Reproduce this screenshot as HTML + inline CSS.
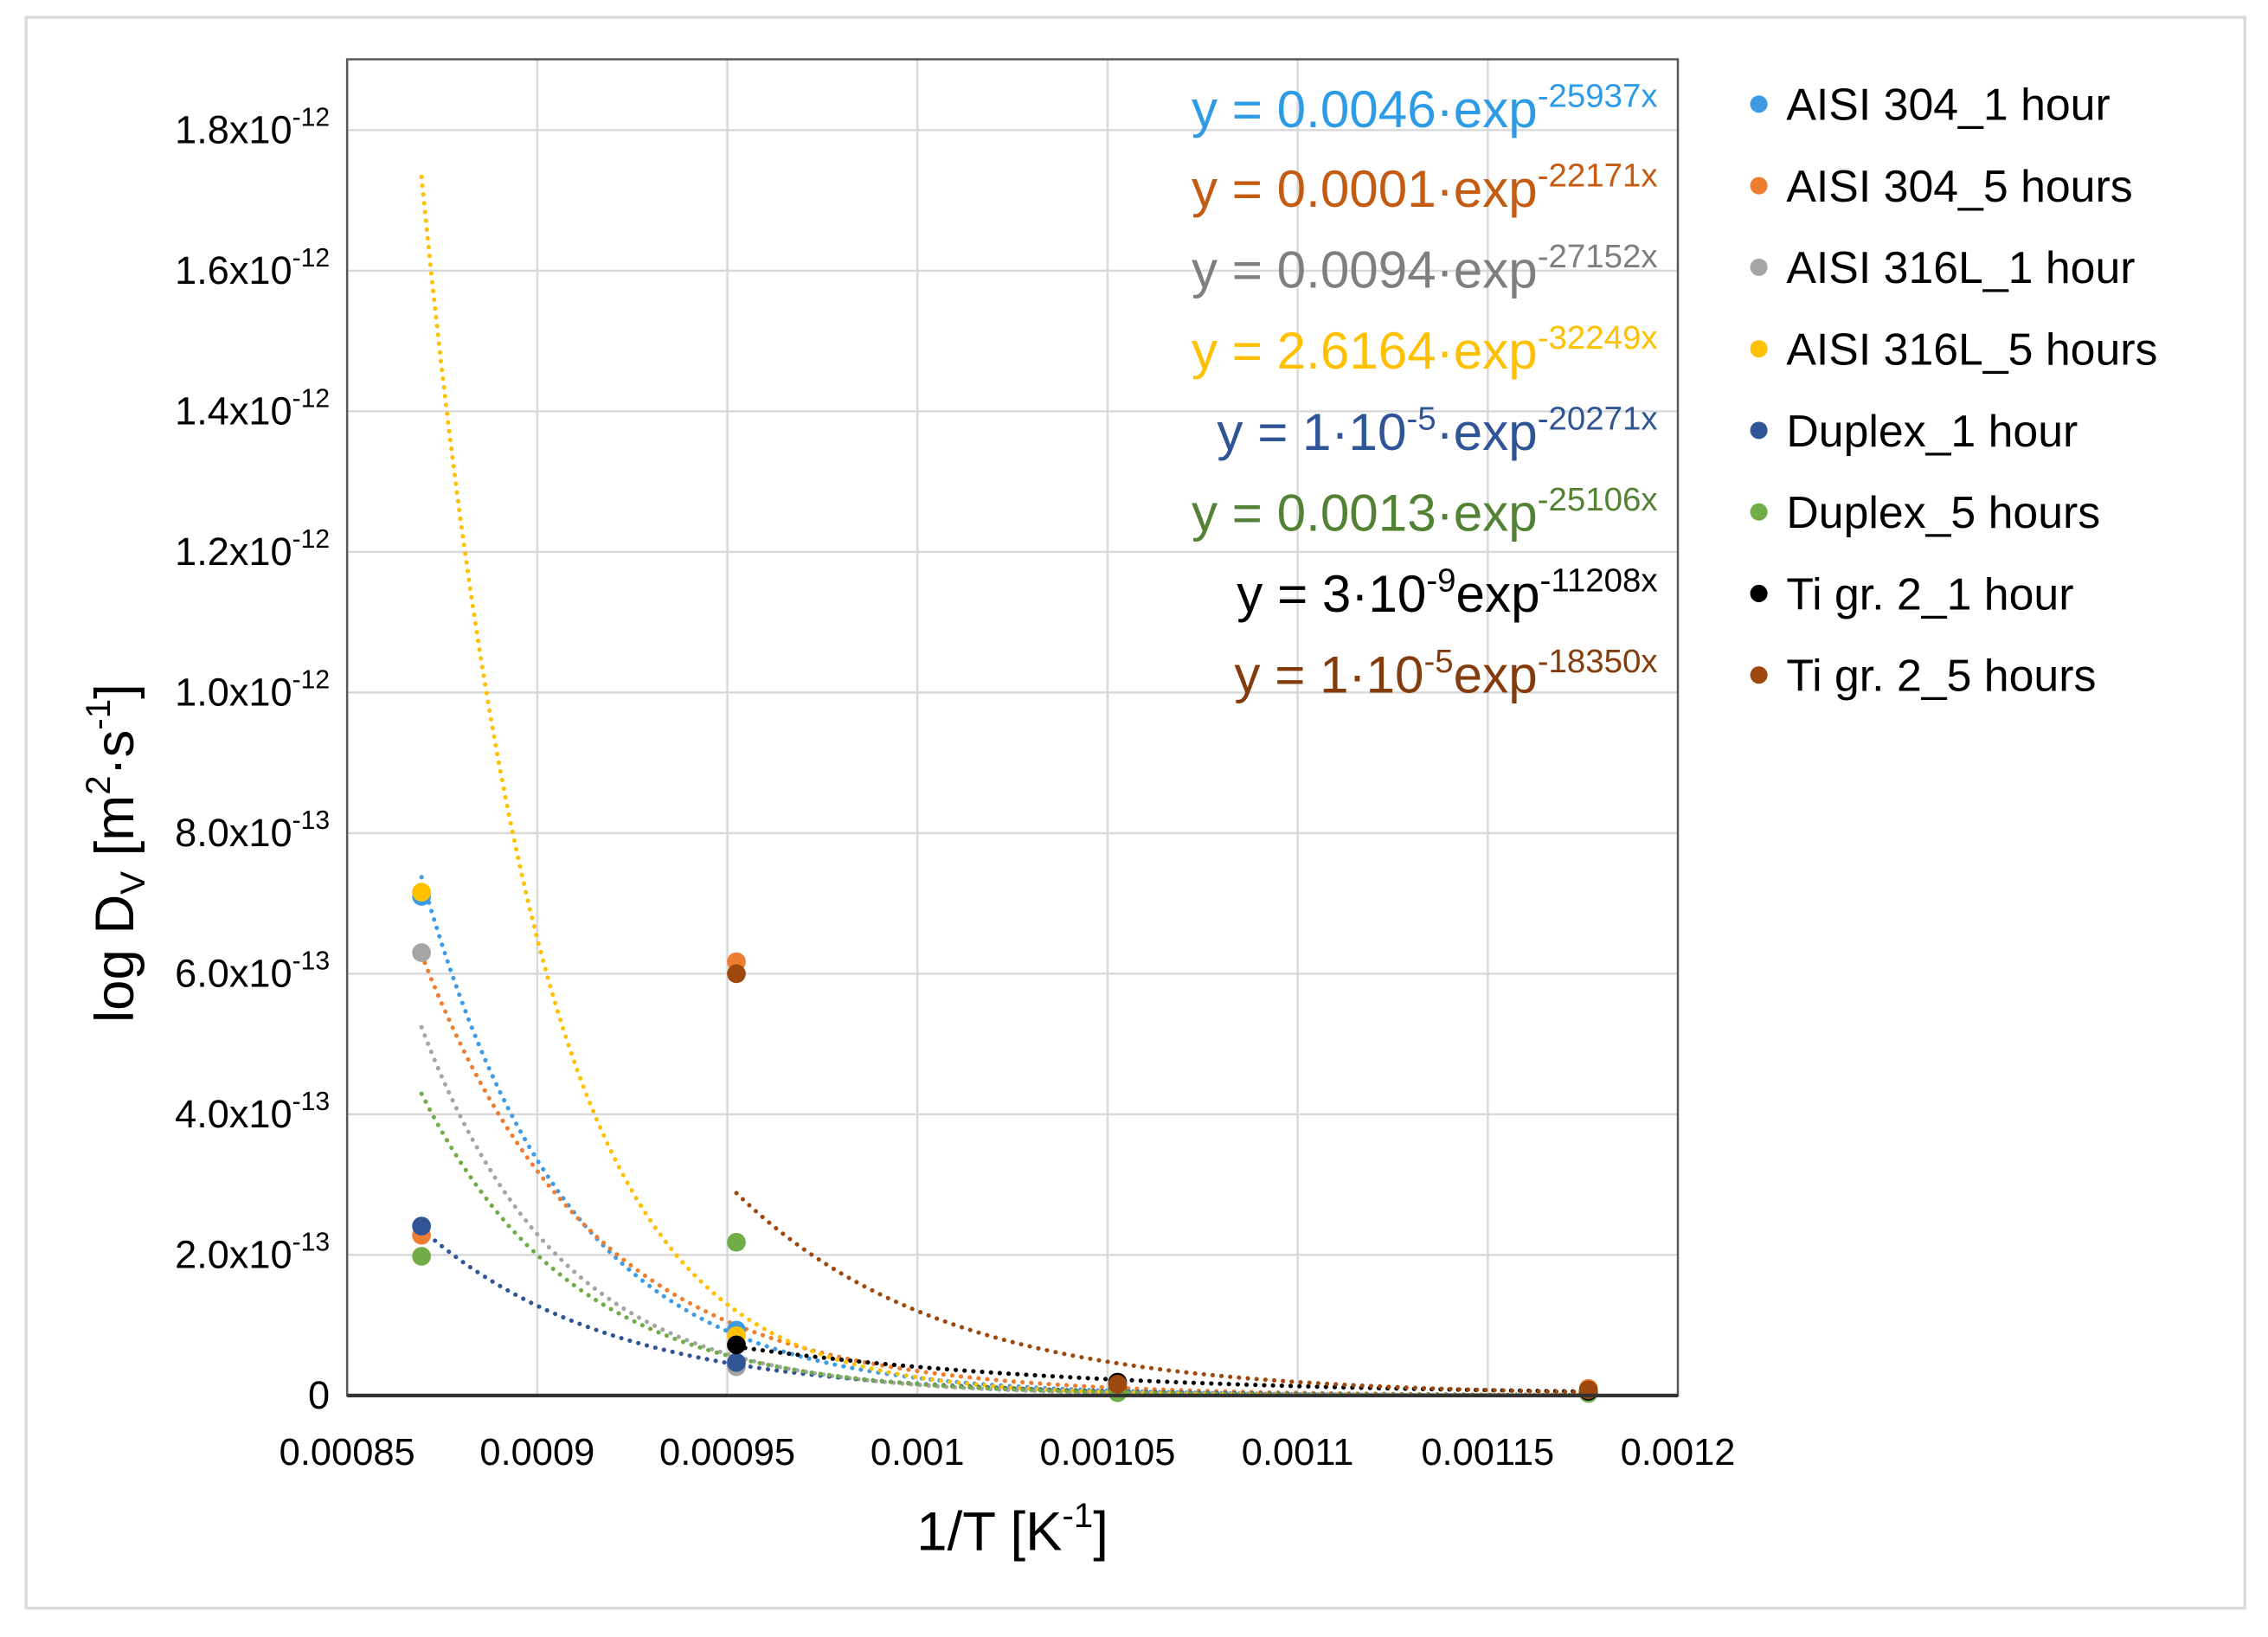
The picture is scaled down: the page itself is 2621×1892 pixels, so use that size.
<!DOCTYPE html>
<html><head><meta charset="utf-8"><style>
html,body{margin:0;padding:0;background:#fff;}
svg{display:block;}
text{font-family:"Liberation Sans Narrow","Liberation Sans",sans-serif;}
</style></head><body>
<svg id="chart" width="2621" height="1892" viewBox="0 0 1568 1132" preserveAspectRatio="none" xmlns="http://www.w3.org/2000/svg">
<rect x="18" y="12" width="1534" height="1100" fill="#fff" stroke="#d9d9d9" stroke-width="2"/>
<g id="grid"></g><g id="trends"></g><g id="points"></g>
<rect x="240" y="41" width="920" height="924" fill="none" stroke="#595959" stroke-width="1.5"/>
<line x1="240" y1="965" x2="1160" y2="965" stroke="#333" stroke-width="2.5"/>
<g id="ticks"></g><g id="eqs"></g><g id="legend"></g>
<text x="700" y="1072" font-size="38" text-anchor="middle" fill="#000">1/T [K<tspan font-size="24" dy="-16">-1</tspan><tspan dy="16">]</tspan></text>
<text transform="translate(92,590) rotate(-90)" font-size="38" text-anchor="middle" fill="#000">log D<tspan font-size="24" dy="8">V</tspan><tspan dy="-8"> [m</tspan><tspan font-size="24" dy="-16">2</tspan><tspan dy="16">·s</tspan><tspan font-size="24" dy="-16">-1</tspan><tspan dy="16">]</tspan></text>
</svg>
<script>
const xs = [1/1150, 1/1050, 1/950, 1/850];
const seriesNames = ["AISI 304_1 hour","AISI 304_5 hours","AISI 316L_1 hour","AISI 316L_5 hours","Duplex_1 hour","Duplex_5 hours","Ti gr. 2_1 hour","Ti gr. 2_5 hours"];
const colors = ["#3d9be6","#ed7d31","#a5a5a5","#ffc000","#2f5597","#70ad47","#000000","#9e480e"];
const eqColors = ["#2e9be6","#c55a11","#7f7f7f","#ffc000","#2f5597","#548235","#000000","#843c0c"];
// values in m^2/s (null = not present)
const v304_1 = [7.10e-13, 0.93e-13, 0.10e-13, 0.05e-13];
const v304_5 = [2.28e-13, 6.17e-13, 0.15e-13, 0.10e-13];
const v316_1 = [6.30e-13, 0.41e-13, 0.08e-13, 0.04e-13];
const v316_5 = [7.16e-13, 0.85e-13, 0.10e-13, 0.05e-13];
const vDup_1 = [2.41e-13, 0.47e-13, 0.08e-13, 0.04e-13];
const vDup_5 = [1.98e-13, 2.18e-13, 0.04e-13, 0.03e-13];
const vTi_1 = [null, 0.72e-13, 0.19e-13, 0.06e-13];
const vTi_5 = [null, 6.00e-13, 0.16e-13, 0.08e-13];
const values = [v304_1, v304_5, v316_1, v316_5, vDup_1, vDup_5, vTi_1, vTi_5];
// trendline y = a*exp(-b x)
const trendA = [0.0046, 0.000148, 0.0094, 2.6164, 1.07e-5, 0.0013, 3e-9, 1.12e-5];
const trendB = [25937, 22171, 27152, 32249, 20271, 25106, 11208, 18350];
const trendStart = [0, 0, 0, 0, 0, 0, 1, 1];
const yTickLabels = ["0","2.0x10","4.0x10","6.0x10","8.0x10","1.0x10","1.2x10","1.4x10","1.6x10","1.8x10"];
const yTickExp = ["","-13","-13","-13","-13","-12","-12","-12","-12","-12"];
const yTickVals = [0,2e-13,4e-13,6e-13,8e-13,1e-12,1.2e-12,1.4e-12,1.6e-12,1.8e-12];
const xTickVals = [0.00085,0.0009,0.00095,0.001,0.00105,0.0011,0.00115,0.0012];
const xTickLabels = ["0.00085","0.0009","0.00095","0.001","0.00105","0.0011","0.00115","0.0012"];
const NS="http://www.w3.org/2000/svg";
const X = v => 240 + (v-0.00085)/0.00035*920;
const Y = v => 965 - v/1.8e-12*875;
function mk(tag, attrs, parent){const e=document.createElementNS(NS,tag);for(const k in attrs)e.setAttribute(k,attrs[k]);parent.appendChild(e);return e;}
const grid=document.getElementById('grid'), ticks=document.getElementById('ticks');
yTickVals.forEach((v,i)=>{
  if(i>0){const l=mk('line',{x1:240,x2:1160,y1:Y(v),y2:Y(v),stroke:'#d9d9d9','stroke-width':1.5},grid);
  
  }
  const t=mk('text',{x:228,y:Y(v)+9,'font-size':27,'text-anchor':'end',fill:'#000'},ticks);
  
  
  t.textContent=yTickLabels[i];
  if(yTickExp[i]){const s=document.createElementNS(NS,'tspan');s.setAttribute('font-size','18');s.setAttribute('dy','-12');s.textContent=yTickExp[i];t.appendChild(s);}
});
xTickVals.forEach((v,i)=>{
  if(i>0&&i<xTickVals.length-1){const l=mk('line',{x1:X(v),x2:X(v),y1:41,y2:965,stroke:'#d9d9d9','stroke-width':1.5},grid);
  
  }
  const t=mk('text',{x:X(v),y:1013,'font-size':26,'text-anchor':'middle',fill:'#000'},ticks);
  
  
  t.textContent=xTickLabels[i];
});
const trends=document.getElementById('trends'), pts=document.getElementById('points');
values.forEach((arr,si)=>{
  const x0=xs[trendStart[si]], x1=xs[xs.length-1];
  let d='';
  for(let k=0;k<=120;k++){const x=x0+(x1-x0)*k/120;const y=trendA[si]*Math.exp(-trendB[si]*x);d+=(k?'L':'M')+X(x).toFixed(2)+','+Y(y).toFixed(2);}
  const p=mk('path',{d:d,fill:'none',stroke:colors[si],'stroke-width':3,'stroke-dasharray':'0.1 6','stroke-linecap':'round'},trends);
  
  
});
values.forEach((arr,si)=>{
  arr.forEach((v,j)=>{ if(v===null)return;
    const c=mk('circle',{cx:X(xs[j]),cy:Y(v),r:6.5,fill:colors[si]},pts);
    
    
  });
});
const eqs=document.getElementById('eqs');
const eqBase=[88,143,199,255,311,367,423,479];
const eqParts=[
 [["y = 0.0046·exp",0],["-25937x",1]],
 [["y = 0.0001·exp",0],["-22171x",1]],
 [["y = 0.0094·exp",0],["-27152x",1]],
 [["y = 2.6164·exp",0],["-32249x",1]],
 [["y = 1·10",0],["-5",1],["·exp",0],["-20271x",1]],
 [["y = 0.0013·exp",0],["-25106x",1]],
 [["y = 3·10",0],["-9",1],["exp",0],["-11208x",1]],
 [["y = 1·10",0],["-5",1],["exp",0],["-18350x",1]]];
eqParts.forEach((parts,i)=>{
  const t=mk('text',{x:1146,y:eqBase[i],'font-size':36,'text-anchor':'end',fill:eqColors[i]},eqs);
  
  
  let sup=false;
  parts.forEach(([s,isSup])=>{const ts=document.createElementNS(NS,'tspan');
    if(isSup&&!sup){ts.setAttribute('dy','-14');ts.setAttribute('font-size','23');sup=true;}
    else if(!isSup&&sup){ts.setAttribute('dy','14');sup=false;}
    else if(isSup){ts.setAttribute('font-size','23');}
    ts.textContent=s;t.appendChild(ts);});
});
const leg=document.getElementById('legend');
seriesNames.forEach((n,i)=>{
  const y=72+i*56.4;
  const g=mk('g',{},leg);
  
  
  mk('circle',{cx:1216,cy:y,r:6,fill:colors[i]},g);
  const t=mk('text',{x:1235,y:y+11,'font-size':31,fill:'#000'},g);
  t.textContent=n;
});
</script>
</body></html>
